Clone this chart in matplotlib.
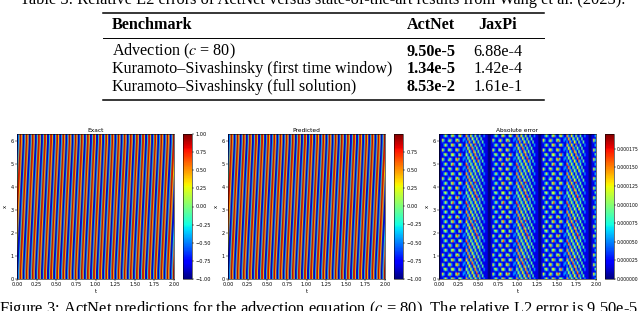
import numpy as np
import matplotlib
matplotlib.use("Agg")
import matplotlib.pyplot as plt

W, H = 640, 311

# table text
caption_top = "Table 3: Relative L2 errors of ActNet versus state-of-the-art results from Wang et al. (2023)."
caption_bottom = "Figure 3: ActNet predictions for the advection equation ($c$ = 80). The relative L2 error is 9.50e-5."
col_headers = ["Benchmark", "ActNet", "JaxPi"]
benchmarks = ["Advection ($c$ = 80)", "Kuramoto–Sivashinsky (first time window)", "Kuramoto–Sivashinsky (full solution)"]
actnet_errors = ["9.50e-5", "1.34e-5", "8.53e-2"]
jaxpi_errors = ["6.88e-4", "1.42e-4", "1.61e-1"]

# one stripe period, top row first
exact_cell = [
    [-1.0, -0.7, -0.25, 0.7, 1.0, 0.7, 0.3, -0.7],
    [-0.7, -0.25, 0.7, 1.0, 0.7, 0.3, -0.7, -1.0],
    [-0.25, 0.7, 1.0, 0.7, 0.3, -0.7, -1.0, -0.7],
    [0.7, 1.0, 0.7, 0.3, -0.7, -1.0, -0.7, -0.25],
    [1.0, 0.7, 0.3, -0.7, -1.0, -0.7, -0.25, 0.7],
    [0.7, 0.3, -0.7, -1.0, -0.7, -0.25, 0.7, 1.0],
    [0.3, -0.7, -1.0, -0.7, -0.25, 0.7, 1.0, 0.7],
    [-0.7, -1.0, -0.7, -0.25, 0.7, 1.0, 0.7, 0.3],
]
# same for the predicted panel, it tops out a bit under 1
predicted_cell = [
    [-1.0, -0.7, -0.25, 0.7, 0.99, 0.7, 0.3, -0.7],
    [-0.7, -0.25, 0.7, 0.99, 0.7, 0.3, -0.7, -1.0],
    [-0.25, 0.7, 0.99, 0.7, 0.3, -0.7, -1.0, -0.7],
    [0.7, 0.99, 0.7, 0.3, -0.7, -1.0, -0.7, -0.25],
    [0.99, 0.7, 0.3, -0.7, -1.0, -0.7, -0.25, 0.7],
    [0.7, 0.3, -0.7, -1.0, -0.7, -0.25, 0.7, 0.99],
    [0.3, -0.7, -1.0, -0.7, -0.25, 0.7, 0.99, 0.7],
    [-0.7, -1.0, -0.7, -0.25, 0.7, 0.99, 0.7, 0.3],
]
# one lobe of the error panel by eye, digit = level of error_unit, top row first
# dark edge, blobs, slanted stripes, dark edge
error_lobe = [
    "01" "137311573115831" "18317316215113" "110",
    "01" "136311583115731" "18317316215113" "110",
    "01" "111121111211112" "31831731621511" "110",
    "01" "731138311573113" "31831631621511" "110",
    "01" "631157311595113" "13183173162151" "110",
    "01" "211112111121111" "13182173162151" "110",
    "01" "136311683115731" "18317319215113" "110",
    "01" "137311583115831" "17318316215113" "110",
    "01" "111121111211112" "31731831621511" "110",
    "01" "631157311683113" "31731931521511" "110",
    "01" "731158311583113" "13173183162151" "110",
    "01" "211112111121111" "13173185162151" "110",
    "01" "157311673115931" "16317318215113" "110",
    "01" "136311573115831" "16317318315113" "110",
    "01" "111121111211112" "31631731831511" "110",
    "01" "731137311695113" "31631731921511" "110",
    "01" "631158311583113" "13163173183151" "110",
    "01" "211112111121111" "13163173183151" "110",
    "01" "137311583115631" "18316317315113" "110",
    "01" "136311693115731" "19316317315113" "110",
    "01" "111121111211112" "31931631731511" "110",
    "01" "631157311583113" "31831631731511" "110",
    "01" "731138311683113" "13183163173151" "110",
    "01" "211112111121111" "13183163173151" "110",
]
error_unit = 1.8e-5

titles = ["Exact", "Predicted", "Absolute error"]
t_ticks = [0.00, 0.25, 0.50, 0.75, 1.00, 1.25, 1.50, 1.75, 2.00]
x_ticks = [0, 1, 2, 3, 4, 5, 6]
exact_cbar = [-1.0, -0.75, -0.5, -0.25, 0.0, 0.25, 0.5, 0.75, 1.0]
pred_cbar = [-1.0, -0.75, -0.5, -0.25, 0.0, 0.25, 0.5, 0.75]
error_cbar = [0, 2.5e-5, 5e-5, 7.5e-5, 1e-4, 1.25e-4, 1.5e-4, 1.75e-4]

plt.rcParams["font.family"] = ["Liberation Serif"]
plt.rcParams["mathtext.fontset"] = "stix"

fig = plt.figure(figsize=(W / 100, H / 100), dpi=100)


def px_axes(x0, y0, x1, y1):
    # pixel box with y measured from the top of the image
    return fig.add_axes([x0 / W, 1 - y1 / H, (x1 - x0) / W, (y1 - y0) / H])


def put(x, y, s, **kw):
    fig.text(x / W, 1 - y / H, s, va="center", **kw)


def rule(y, lw):
    fig.add_artist(plt.Line2D([103 / W, 544 / W], [1 - y / H] * 2, color="black", lw=lw))


# table
put(323, 0, caption_top, ha="center", fontsize=11.8)
rule(12.5, 1.1)
rule(38, 0.7)
rule(100, 1.1)
put(112, 25, col_headers[0], fontsize=11.6, fontweight="bold")
put(431, 25, col_headers[1], ha="center", fontsize=11.6, fontweight="bold")
put(498, 25, col_headers[2], ha="center", fontsize=11.6, fontweight="bold")
for i in range(3):
    row_y = [51.5, 69, 87][i]
    put(112, row_y, benchmarks[i], fontsize=11.6)
    put(431, row_y, actnet_errors[i], ha="center", fontsize=11.6, fontweight="bold")
    put(498, row_y, jaxpi_errors[i], ha="center", fontsize=11.6)
put(-1, 309, caption_bottom, fontsize=11.9)

# heatmaps, rows come top first
exact = np.tile(exact_cell, (2, 26))[:9, :205]
predicted = np.tile(predicted_cell, (2, 26))[:9, :205]
lobe = np.array([[int(c) for c in row] for row in error_lobe]) * error_unit
error = np.tile(lobe, (4, 4))[:91, :106]

fields = [exact, predicted, error]
limits = [(-1.0, 1.0), (-1.0, 0.995), (0.0, 1.95e-4)]
cbar_ticks = [exact_cbar, pred_cbar, error_cbar]
ax_left = [17, 228, 439]
cb_left = [183, 394, 605]

for i in range(3):
    ax = px_axes(ax_left[i], 134, ax_left[i] + 157, 279)
    im = ax.imshow(fields[i], cmap="jet", aspect="auto", interpolation="bilinear",
                   extent=[0, 2, 0, 2 * np.pi], vmin=limits[i][0], vmax=limits[i][1])
    ax.set_title(titles[i], fontsize=4.2, family="DejaVu Sans", pad=1.5)
    ax.set_xlabel("t", fontsize=3.8, family="DejaVu Sans", labelpad=1)
    ax.set_ylabel("x", fontsize=3.8, family="DejaVu Sans", labelpad=1.5)
    ax.set_xticks(t_ticks)
    ax.set_yticks(x_ticks)
    ax.set_xticklabels(["%.2f" % v for v in t_ticks], family="DejaVu Sans")
    ax.set_yticklabels([str(v) for v in x_ticks], family="DejaVu Sans")
    ax.tick_params(labelsize=3.6, length=1.4, width=0.35, pad=1)
    for sp in ax.spines.values():
        sp.set_linewidth(0.4)

    cax = px_axes(cb_left[i], 134, cb_left[i] + 9, 279)
    cb = fig.colorbar(im, cax=cax, ticks=cbar_ticks[i])
    if i == 2:
        cb.ax.set_yticklabels(["%.6f" % v for v in cbar_ticks[i]], family="DejaVu Sans")
        cb.ax.tick_params(labelsize=3.3, length=1.4, width=0.35, pad=0.8)
    else:
        cb.ax.set_yticklabels([("%.2f" % v).replace("-", "\u2212") for v in cbar_ticks[i]], family="DejaVu Sans")
        cb.ax.tick_params(labelsize=3.6, length=1.4, width=0.35, pad=1)
    cb.outline.set_linewidth(0.4)

fig.savefig("out.png", dpi=100)
